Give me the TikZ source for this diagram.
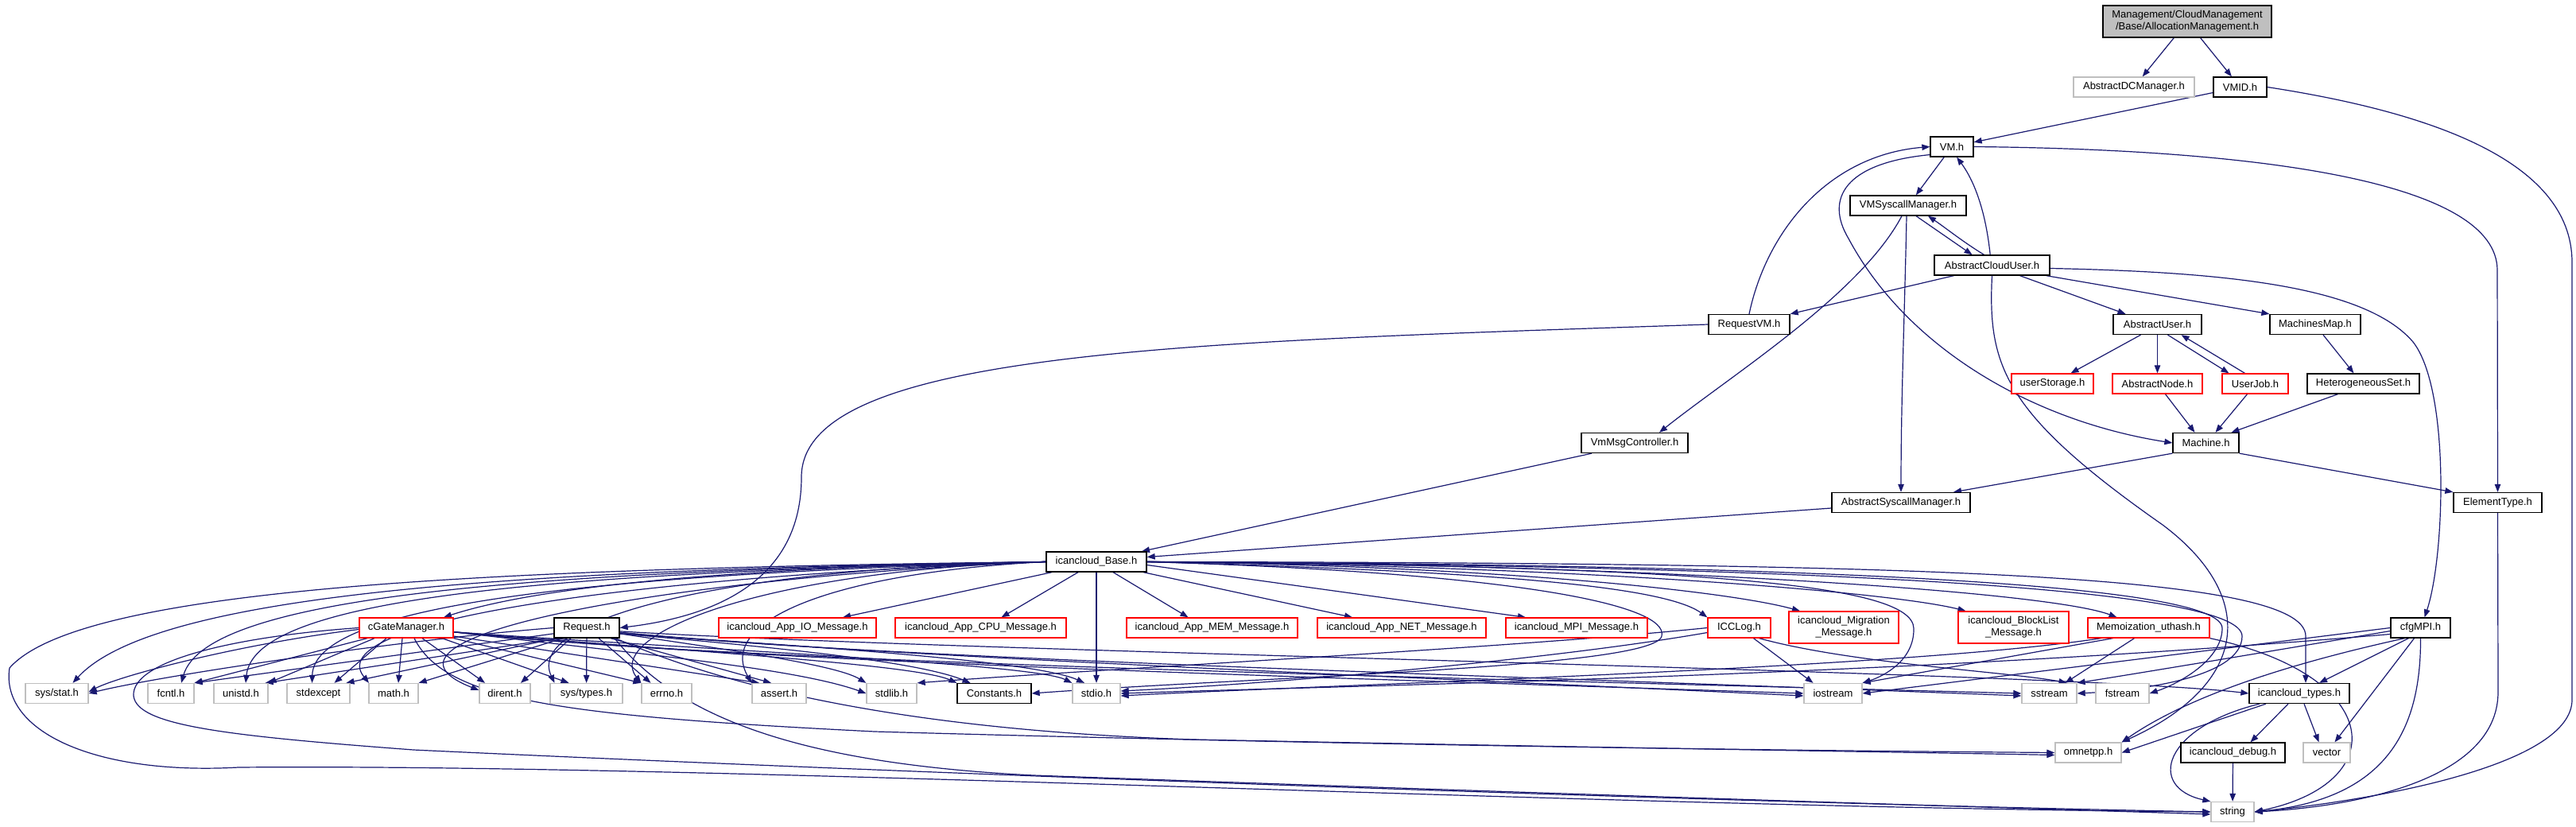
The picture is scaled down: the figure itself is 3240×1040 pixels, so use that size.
\documentclass[tikz,border=0pt]{standalone}
\usepackage{fontspec}
\setmainfont{Liberation Sans}
\usetikzlibrary{arrows.meta}
\definecolor{edgec}{HTML}{191970}
\definecolor{greyb}{HTML}{BFBFBF}
\definecolor{redb}{HTML}{FF0000}
\pgfdeclarelayer{bgl}
\pgfdeclarelayer{edges}
\pgfsetlayers{bgl,edges,main}
\tikzset{
  nd/.style={rectangle, line width=1.3pt, fill=white, inner sep=0pt, minimum height=25pt,
    font=\fontsize{13}{15}\selectfont, align=center},
  nblack/.style={nd, draw=black},
  nred/.style={nd, draw=redb},
  ngrey/.style={nd, draw=greyb},
  nroot/.style={nd, draw=black, fill=greyb},
  e/.style={draw=edgec, line width=1.2pt, -{Triangle[length=10pt,width=7.5pt]}},
}
\begin{document}
\begin{tikzpicture}[x=1pt,y=-1pt]
\begin{pgfonlayer}{bgl}
\fill[white] (0,0) rectangle (3240,1040);
\end{pgfonlayer}
\useasboundingbox (0,0) rectangle (3240,1040);
% ---------------- nodes ----------------
\node[nroot, minimum width=212pt, minimum height=40pt] (root) at (2751,27) {Management/CloudManagement\\/Base/AllocationManagement.h};
\node[ngrey, minimum width=152pt] (dcm) at (2684,109.5) {AbstractDCManager.h};
\node[nblack, minimum width=67pt] (vmid) at (2817.5,109.5) {VMID.h};
\node[nblack, minimum width=54pt] (vm) at (2455,184.5) {VM.h};
\node[nblack, minimum width=146pt] (vmsys) at (2400,258.5) {VMSyscallManager.h};
\node[nblack, minimum width=145pt] (acu) at (2505.5,333.5) {AbstractCloudUser.h};
\node[nblack, minimum width=102pt] (rvm) at (2200,408) {RequestVM.h};
\node[nblack, minimum width=111pt] (au) at (2713.5,408) {AbstractUser.h};
\node[nblack, minimum width=114pt] (mm) at (2912,408) {MachinesMap.h};
\node[nred, minimum width=103pt] (us) at (2581.5,482.5) {userStorage.h};
\node[nred, minimum width=113pt] (an) at (2713.5,482.5) {AbstractNode.h};
\node[nred, minimum width=83pt] (uj) at (2836.5,482.5) {UserJob.h};
\node[nblack, minimum width=141pt] (hs) at (2972.5,482.5) {HeterogeneousSet.h};
\node[nblack, minimum width=134pt] (vmmsg) at (2056,557) {VmMsgController.h};
\node[nblack, minimum width=83pt] (mach) at (2774.5,557) {Machine.h};
\node[nblack, minimum width=174pt] (ascm) at (2391,632) {AbstractSyscallManager.h};
\node[nblack, minimum width=111pt] (etype) at (3141.5,632) {ElementType.h};
\node[nblack, minimum width=126pt] (base) at (1379,706.5) {icancloud\_Base.h};
\node[nred, minimum width=118pt] (cgate) at (511,789.5) {cGateManager.h};
\node[nblack, minimum width=82pt] (req) at (738,789.5) {Request.h};
\node[nred, minimum width=198pt] (io) at (1003,789.5) {icancloud\_App\_IO\_Message.h};
\node[nred, minimum width=215pt] (cpu) at (1233.5,789.5) {icancloud\_App\_CPU\_Message.h};
\node[nred, minimum width=215pt] (mem) at (1524.5,789.5) {icancloud\_App\_MEM\_Message.h};
\node[nred, minimum width=212pt] (net) at (1763,789.5) {icancloud\_App\_NET\_Message.h};
\node[nred, minimum width=178pt] (mpi) at (1983,789.5) {icancloud\_MPI\_Message.h};
\node[nred, minimum width=79pt] (iccl) at (2187.5,789.5) {ICCLog.h};
\node[nred, minimum width=138pt, minimum height=40pt] (migr) at (2319,789) {icancloud\_Migration\\\_Message.h};
\node[nred, minimum width=139pt, minimum height=40pt] (blk) at (2532.5,789) {icancloud\_BlockList\\\_Message.h};
\node[nred, minimum width=153pt] (memo) at (2702.5,789.5) {Memoization\_uthash.h};
\node[nblack, minimum width=75pt] (cfg) at (3044.5,789.5) {cfgMPI.h};
\node[ngrey, minimum width=79pt] (sysstat) at (71.5,872) {sys/stat.h};
\node[ngrey, minimum width=58pt] (fcntl) at (215,872) {fcntl.h};
\node[ngrey, minimum width=68pt] (unistd) at (303,872) {unistd.h};
\node[ngrey, minimum width=79pt] (stdexc) at (400.5,872) {stdexcept};
\node[ngrey, minimum width=62pt] (math) at (495,872) {math.h};
\node[ngrey, minimum width=64pt] (dirent) at (635,872) {dirent.h};
\node[ngrey, minimum width=91pt] (systypes) at (737.5,872) {sys/types.h};
\node[ngrey, minimum width=63pt] (errno) at (838.5,872) {errno.h};
\node[ngrey, minimum width=68pt] (assert) at (980,872) {assert.h};
\node[ngrey, minimum width=63pt] (stdlib) at (1121.5,872) {stdlib.h};
\node[nblack, minimum width=93pt] (const) at (1250.5,872) {Constants.h};
\node[ngrey, minimum width=60pt] (stdio) at (1379,872) {stdio.h};
\node[ngrey, minimum width=73pt] (iostream) at (2305.5,872) {iostream};
\node[ngrey, minimum width=69pt] (sstream) at (2577.5,872) {sstream};
\node[ngrey, minimum width=67pt] (fstream) at (2669.5,872) {fstream};
\node[nblack, minimum width=126pt] (types) at (2892,872) {icancloud\_types.h};
\node[ngrey, minimum width=83pt] (omnetpp) at (2626.5,946.5) {omnetpp.h};
\node[nblack, minimum width=131pt] (debug) at (2808.5,946.5) {icancloud\_debug.h};
\node[ngrey, minimum width=59pt] (vector) at (2926.5,946.5) {vector};
\node[ngrey, minimum width=54pt] (string) at (2808,1021) {string};
% ---------------- edges ----------------
\begin{pgfonlayer}{edges}
% top part
\draw[e] (root) -- (dcm);
\draw[e] (root) -- (vmid);
\draw[e] (vmid) -- (vm);
\draw[e] (vmid.east) .. controls (3050,140) and (3235,200) .. (3235,330) -- (3235,880) .. controls (3235,960) and (3000,1005) .. (string.east);
\draw[e] (vm) -- (vmsys);
\draw[e] (vm.200) .. controls (2320,205) and (2295,250) .. (2325,300) .. controls (2400,440) and (2560,530) .. (mach.west);
\draw[e] (vm.east) .. controls (2850,188) and (3141,230) .. (3141,340) -- (etype.north);
\draw[e] (acu.100) .. controls (2498,270) and (2485,230) .. (vm.-65);
\draw[e] ([xshift=10pt]vmsys.south) -- ([xshift=-25pt]acu.north);
\draw[e] ([xshift=-10pt]acu.north) .. controls (2470,305) and (2445,285) .. ([xshift=25pt]vmsys.south);
\draw[e] ([xshift=-2pt]vmsys.south) .. controls (2396,380) and (2391,500) .. (ascm.north);
\draw[e] ([xshift=-8pt]vmsys.south) .. controls (2340,370) and (2180,470) .. ([xshift=31pt]vmmsg.north);
\draw[e] ([xshift=-48pt]acu.south) -- (rvm.north east);
\draw[e] (rvm.north) .. controls (2222,290) and (2300,195) .. (vm.180);
\draw[e] (rvm.west) .. controls (1500,430) and (1008,440) .. (1008,600) .. controls (1008,730) and (900,775) .. (req.east);
\draw[e] ([xshift=35pt]acu.south) -- ([xshift=-40pt]au.north);
\draw[e] ([xshift=-5pt]acu.south east) -- (mm.north west);
\draw[e] ([yshift=-4pt]acu.east) .. controls (2800,342) and (2975,360) .. (3035,430) .. controls (3082,490) and (3075,700) .. ([xshift=5pt]cfg.north);
\draw[e] (acu.south) .. controls (2500,460) and (2520,520) .. (2720,660) .. controls (2840,750) and (2830,860) .. (omnetpp.north east);
\draw[e] ([xshift=-21pt]au.south) -- ([xshift=23pt]us.north);
\draw[e] (au) -- (an);
\draw[e] ([xshift=13pt]au.south) -- ([xshift=-33pt]uj.north);
\draw[e] ([xshift=-13pt]uj.north) -- ([xshift=30pt]au.south);
\draw[e] ([xshift=10pt]mm.south) -- ([xshift=-12pt]hs.north);
\draw[e] ([xshift=10pt]an.south) -- ([xshift=-14pt]mach.north);
\draw[e] ([xshift=-10pt]uj.south) -- ([xshift=12pt]mach.north);
\draw[e] ([xshift=-32pt]hs.south) -- ([xshift=32pt]mach.north);
\draw[e] (mach.south west) -- ([xshift=66pt]ascm.north);
\draw[e] (mach.south east) -- (etype.north west);
\draw[e] (etype.south) -- (3142,870) .. controls (3142,985) and (2950,1015) .. (string.east);
\draw[e] ([xshift=-54pt]vmmsg.south) -- ([xshift=57pt]base.north);
\draw[e] ([yshift=-7pt]ascm.west) -- ([yshift=6pt]base.east);
% cfgMPI
\draw[e] (cfg.west) -- (iostream.east);
\draw[e] ([yshift=-4pt]cfg.west) .. controls (2850,820) and (2700,845) .. (sstream.north east);
\draw[e] ([xshift=-20pt]cfg.south) .. controls (2900,830) and (2760,870) .. (omnetpp.north east);
\draw[e] ([xshift=-15pt]cfg.south) -- ([xshift=25pt]types.north);
\draw[e] ([xshift=-8pt]cfg.south) -- ([xshift=10pt]vector.north);
\draw[e] (cfg.south) .. controls (3045,920) and (3000,1005) .. (string.east);
\draw[e] ([yshift=-8pt]cfg.west) .. controls (2400,850) and (1700,862) .. (stdio.east);
% types, debug
\draw[e] ([xshift=-42pt]types.south) -- (omnetpp.east);
\draw[e] ([xshift=-14pt]types.south) -- ([xshift=22pt]debug.north);
\draw[e] ([xshift=6pt]types.south) -- ([xshift=-10pt]vector.north);
\draw[e] ([xshift=-50pt]types.south) .. controls (2720,915) and (2700,990) .. (string.north west);
\draw[e] (debug) -- (string);
% Memoization
\draw[e] ([xshift=-45pt]memo.south) -- (iostream.north east);
\draw[e] ([xshift=-18pt]memo.south) -- ([xshift=20pt]sstream.north);
\draw[e] (memo.south east) .. controls (3000,850) and (3010,985) .. (string.east);
\draw[e] ([xshift=-60pt]memo.south) .. controls (2400,840) and (1700,860) .. ([yshift=-3pt]stdio.east);
% ICCLog
\draw[e] ([xshift=18pt]iccl.south) -- ([xshift=-25pt]iostream.north);
\draw[e] ([xshift=25pt]iccl.south) .. controls (2330,835) and (2530,845) .. ([xshift=22pt]sstream.north);
\draw[e] (iccl.west) .. controls (1900,815) and (1400,840) .. (stdlib.north east);
\draw[e] ([yshift=-6pt]iccl.west) .. controls (1950,830) and (1600,860) .. ([yshift=3pt]stdio.east);
% icancloud_Base
\draw[e] (base.west) .. controls (1000,712) and (700,730) .. ([xshift=47pt]cgate.north);
\draw[e] ([xshift=-56pt]base.south) -- ([xshift=57pt]io.north);
\draw[e] ([xshift=-23pt]base.south) -- ([xshift=26pt]cpu.north);
\draw[e] (base) -- (stdio);
\draw[e] ([xshift=21pt]base.south) -- ([xshift=-30pt]mem.north);
\draw[e] ([xshift=59pt]base.south) -- ([xshift=-62pt]net.north);
\draw[e] ([yshift=-4pt]base.east) -- ([xshift=-64pt]mpi.north);
\draw[e] (base.east) .. controls (1850,718) and (2090,735) .. (iccl.north west);
\draw[e] (base.east) .. controls (1900,712) and (2180,745) .. ([xshift=-55pt]migr.north);
\draw[e] (base.east) .. controls (2000,712) and (2380,745) .. ([xshift=-60pt]blk.north);
\draw[e] (base.east) .. controls (2100,710) and (2580,745) .. ([xshift=-40pt]memo.north);
\draw[e] (base.east) .. controls (2150,712) and (2405,735) .. (2407,790) .. controls (2408,830) and (2370,850) .. (iostream.north east);
\draw[e] (base.east) .. controls (2300,712) and (2820,740) .. (2820,800) .. controls (2820,850) and (2700,868) .. (sstream.east);
\draw[e] (base.east) .. controls (2300,710) and (2795,735) .. (2795,790) .. controls (2795,830) and (2740,860) .. (fstream.east);
\draw[e] (base.east) .. controls (2400,708) and (2900,720) .. (2900,800) -- ([xshift=8pt]types.north);
\draw[e] (base.east) .. controls (1900,720) and (2100,760) .. (2090,800) .. controls (2080,840) and (1600,850) .. (const.east);
\draw[e] (base.west) .. controls (600,715) and (100,740) .. (12,840) .. controls (0,920) and (120,975) .. (300,965) .. controls (900,960) and (2000,1015) .. (string.west);
\draw[e] (base.west) .. controls (700,716) and (200,740) .. ([xshift=20pt]sysstat.north);
\draw[e] (base.west) .. controls (700,718) and (260,745) .. ([xshift=13pt]fcntl.north);
\draw[e] (base.west) .. controls (700,720) and (320,750) .. ([xshift=6pt]unistd.north);
\draw[e] (base.west) .. controls (750,722) and (395,760) .. ([xshift=-8pt]stdexc.north);
\draw[e] (base.west) .. controls (800,725) and (400,780) .. ([xshift=-31pt]math.north);
\draw[e] (base.west) .. controls (850,725) and (430,800) .. ([yshift=4pt]dirent.west);
\draw[e] (base.west) .. controls (900,715) and (660,780) .. ([xshift=-40pt]systypes.north);
\draw[e] (base.west) .. controls (950,718) and (760,800) .. (errno.north west);
\draw[e] (base.west) .. controls (1050,720) and (900,780) .. (assert.north west);
% cGateManager
\draw[e] ([yshift=-2pt]cgate.west) .. controls (300,810) and (150,850) .. ([yshift=2pt]sysstat.east);
\draw[e] (cgate.195) -- (fcntl.north east);
\draw[e] ([xshift=-40pt]cgate.south) -- (unistd.north east);
\draw[e] ([xshift=-25pt]cgate.south) -- ([xshift=20pt]stdexc.north);
\draw[e] ([xshift=-5pt]cgate.south) -- ([xshift=6pt]math.north);
\draw[e] ([xshift=20pt]cgate.south) -- ([xshift=-25pt]dirent.north);
\draw[e] ([xshift=45pt]cgate.south) -- ([xshift=-22pt]systypes.north);
\draw[e] (cgate.south east) -- (errno.north west);
\draw[e] (cgate.-10) -- ([xshift=-25pt]assert.north);
\draw[e] (cgate.-5) .. controls (800,822) and (1000,840) .. (stdlib.west);
\draw[e] (cgate.-5) .. controls (850,818) and (1150,835) .. (const.north west);
\draw[e] (cgate.-5) .. controls (900,818) and (1300,835) .. (stdio.north west);
\draw[e] (cgate.-5) .. controls (900,830) and (1600,850) .. (iostream.west);
\draw[e] (cgate.-5) .. controls (900,832) and (1800,852) .. (sstream.west);
\draw[e] ([xshift=10pt]cgate.south) .. controls (560,880) and (700,900) .. (1100,920) .. controls (1800,940) and (2400,945) .. (omnetpp.west);
\draw[e] (cgate.west) .. controls (300,800) and (165,830) .. (168,875) .. controls (172,912) and (280,925) .. (520,943) .. controls (1200,975) and (2200,1010) .. (string.west);
% Request
\draw[e] (req.west) .. controls (500,805) and (200,850) .. (sysstat.east);
\draw[e] (req.190) -- (fcntl.north east);
\draw[e] (req.200) -- ([xshift=-4pt]unistd.north east);
\draw[e] ([xshift=-38pt]req.south) -- ([xshift=35pt]stdexc.north);
\draw[e] ([xshift=-30pt]req.south) -- (math.north east);
\draw[e] ([xshift=-20pt]req.south) -- ([xshift=20pt]dirent.north);
\draw[e] (req) -- (systypes);
\draw[e] ([xshift=15pt]req.south) -- ([xshift=-20pt]errno.north);
\draw[e] ([xshift=30pt]req.south) -- ([xshift=-10pt]assert.north);
\draw[e] (req.-10) .. controls (900,815) and (1050,835) .. (stdlib.north west);
\draw[e] (req.-10) .. controls (950,812) and (1150,830) .. ([xshift=-30pt]const.north);
\draw[e] (req.-10) .. controls (1000,812) and (1300,830) .. ([xshift=-15pt]stdio.north);
\draw[e] (req.-8) .. controls (1100,825) and (1700,848) .. ([yshift=-3pt]iostream.west);
\draw[e] (req.-8) .. controls (1100,828) and (1900,850) .. ([yshift=-3pt]sstream.west);
\draw[e] (req.-6) .. controls (1200,820) and (2600,845) .. (types.west);
\draw[e] (req.-20) .. controls (950,880) and (1200,920) .. (1500,930) .. controls (2000,940) and (2400,946) .. ([yshift=-3pt]omnetpp.west);
\draw[e] ([xshift=35pt]req.south) .. controls (850,900) and (1000,960) .. (1300,975) .. controls (2000,1000) and (2500,1015) .. ([yshift=-3pt]string.west);
\end{pgfonlayer}
\end{tikzpicture}
\end{document}
